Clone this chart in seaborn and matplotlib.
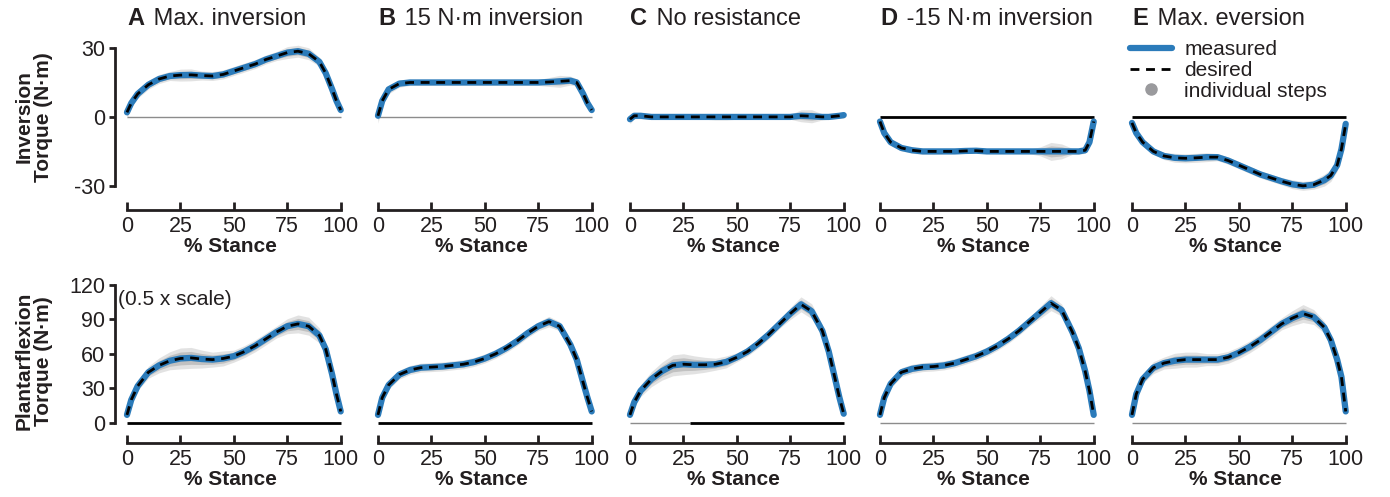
import numpy as np
import pandas as pd
import seaborn as sns
import matplotlib.pyplot as plt
import matplotlib.transforms as mtransforms
from matplotlib.lines import Line2D

sns.set_style('ticks')
plt.rcParams['font.family'] = ['Liberation Sans', 'DejaVu Sans']
plt.rcParams['axes.unicode_minus'] = False

# ----------------- data -----------------
stance = [0, 2, 5, 10, 15, 20, 25, 30, 35, 40, 45, 50, 55, 60, 65, 70, 75, 80, 85, 90, 93, 96, 98, 100]

# inversion torque (N·m), top row
inv_A = [2, 6, 10, 14, 16.5, 17.8, 18.2, 18.3, 18, 17.8, 18.5, 20, 21.5, 23, 25, 26.5, 28, 28.6, 27.5, 24, 19, 12, 7, 3]
inv_B = [0.5, 7, 12, 14.5, 15, 15, 15, 15, 15, 15, 15, 15, 15, 15, 15, 15, 15, 15.2, 15.5, 15.8, 15, 10, 6, 3]
inv_C = [-1, 0.5, 0.5, 0, 0, 0, 0, 0, 0, 0, 0, 0, 0, 0, 0, 0, 0, 0.5, 0.3, 0, 0, 0.3, 0.5, 0.8]
inv_D = [-2, -7, -11, -13.5, -14.5, -15, -15, -15, -15, -14.8, -14.7, -15, -15, -15, -15, -15, -15, -15, -15, -15, -15, -14.5, -11, -2]
inv_E = [-2.6, -7, -11, -15, -17, -17.8, -18, -17.8, -17.5, -17.5, -19, -21, -23, -25, -26.5, -28, -29.3, -30, -29.5, -27.5, -25.5, -21, -14, -3]

# spread of individual steps (half width)
inv_A_sd = [2, 1.5, 1.5, 1.5, 1.5, 1.5, 2, 2, 1.5, 1.5, 1.5, 1.5, 1.5, 1.5, 1.5, 1.5, 2, 2, 2, 1.5, 1.5, 1.5, 1.5, 1.5]
inv_B_sd = [2.5, 1.5, 1.5, 1.2, 1, 1, 1, 1, 1, 1, 1, 1, 1, 1, 1, 1, 1, 1.5, 2, 1.5, 1.2, 1.2, 1.2, 1.2]
inv_C_sd = [1.5, 1, 1, 0.8, 0.8, 0.8, 0.8, 0.8, 0.8, 1, 1, 0.8, 0.8, 0.8, 0.8, 0.8, 0.8, 2, 2.2, 1, 0.8, 0.8, 0.8, 0.8]
inv_D_sd = [1, 1, 1, 1, 1, 1, 1, 0.8, 0.8, 0.8, 0.8, 0.8, 0.8, 0.8, 0.8, 0.8, 1.5, 3, 2.5, 1, 1, 1, 1, 1]
inv_E_sd = [1, 1, 1, 1, 1.2, 1.5, 1.5, 1.5, 1.5, 1.2, 1.2, 1.2, 1.2, 1.2, 1.2, 1.2, 1.5, 1.5, 1.5, 2, 2, 2, 1.5, 1.5]

# plantarflexion torque (N·m), bottom row
pf_A = [7, 20, 32, 44, 50, 54, 56, 56.5, 55.5, 55, 56, 58, 62, 67, 73, 79, 84, 86, 84, 76, 64, 42, 25, 10]
pf_B = [7, 22, 33, 42, 46, 48, 48.5, 49, 50, 51, 53, 56, 60, 65, 71, 78, 84, 88, 84, 68, 55, 35, 22, 10]
pf_C = [7, 18, 28, 38, 45, 50, 51, 50.5, 50.5, 51, 53, 57, 62, 69, 77, 86, 95, 103, 97, 80, 62, 38, 22, 8]
pf_D = [7, 22, 34, 44, 47, 48.5, 49, 50, 52, 55, 58, 62, 67, 73, 80, 88, 96, 104, 98, 79, 65, 45, 28, 7]
pf_E = [7, 25, 38, 48, 52, 54, 55, 55, 55, 55, 57, 61, 66, 72, 79, 86, 91, 95, 92, 83, 72, 55, 40, 10]

pf_A_sd = [2, 3, 3, 4, 5, 6, 7, 7, 6, 5, 5, 4, 4, 4, 4, 4, 5, 6, 6, 5, 4, 3, 3, 2]
pf_B_sd = [2, 3, 3, 3, 3, 3, 3, 3, 3, 3, 3, 3, 3, 3, 3, 3, 3, 3.5, 3, 3, 3, 2, 2, 2]
pf_C_sd = [2, 3, 4, 5, 6, 7, 7, 6, 5, 4, 4, 3, 3, 3, 3, 3, 4, 5, 5, 4, 3, 3, 2, 2]
pf_D_sd = [2, 3, 3, 3, 3, 3, 3, 3, 3, 3, 3, 3, 3, 3, 3, 3, 4, 5, 4, 3, 3, 2, 2, 2]
pf_E_sd = [2, 3, 3, 4, 4, 5, 5, 5, 4, 4, 4, 4, 4, 4, 4, 4, 5, 6, 5, 4, 3, 3, 2, 2]

letters = ['A', 'B', 'C', 'D', 'E']
titles = ['Max. inversion', '15 N\u00b7m inversion', 'No resistance', '-15 N\u00b7m inversion', 'Max. eversion']

top_series = [inv_A, inv_B, inv_C, inv_D, inv_E]
top_spread = [inv_A_sd, inv_B_sd, inv_C_sd, inv_D_sd, inv_E_sd]
bot_series = [pf_A, pf_B, pf_C, pf_D, pf_E]
bot_spread = [pf_A_sd, pf_B_sd, pf_C_sd, pf_D_sd, pf_E_sd]

# ----------------- style -----------------
blue = '#2b7bba'
dark = '#231f20'
gray_band = '#9a9a9a'
thin = dict(color='#8c8c8c', lw=1.0)
thick = dict(color='black', lw=2.0)

# zero line appearance per panel: list of (x0, x1, style)
top_zero = [[(0, 100, thin)], [(0, 100, thin)], [(0, 100, thin)],
            [(0, 100, thick)], [(0, 100, thick)]]
bot_zero = [[(0, 100, thick)], [(0, 100, thick)], [(0, 28, thin), (28, 100, thick)],
            [(0, 100, thin)], [(0, 100, thin)]]

W, H = 1390, 497
fig = plt.figure(figsize=(W / 100, H / 100), dpi=100)

col_x0 = [127, 378, 630, 880, 1132]
ax_w = 230
rows = [dict(bottom=1 - 210 / H, height=(210 - 36.5) / H, ylim=(-40.5, 35), bounds=(-30, 30),
             yticks=[-30, 0, 30], series=top_series, spread=top_spread, zero=top_zero,
             ylabel='Inversion\nTorque (N\u00b7m)', ylab_y=(210 - 117) / (210 - 36.5)),
        dict(bottom=1 - 443 / H, height=(443 - 279) / H, ylim=(-17.4, 125), bounds=(0, 120),
             yticks=[0, 30, 60, 90, 120], series=bot_series, spread=bot_spread, zero=bot_zero,
             ylabel='Plantarflexion\nTorque (N\u00b7m)', ylab_y=0.5)]

title_texts = []
for r, row in enumerate(rows):
    for c in range(5):
        ax = fig.add_axes([(col_x0[c] - 12) / W, row['bottom'], ax_w / W, row['height']])
        y = np.array(row['series'][c])
        sd = np.array(row['spread'][c])

        for x0, x1, st in row['zero'][c]:
            ax.plot([x0, x1], [0, 0], zorder=1, solid_capstyle='butt', **st)

        # individual steps as a soft gray band
        ax.fill_between(stance, y - sd * 1.3, y + sd * 1.3, color=gray_band, alpha=0.28, lw=0, zorder=2)
        ax.fill_between(stance, y - sd * 0.8, y + sd * 0.8, color=gray_band, alpha=0.45, lw=0, zorder=2)

        sns.lineplot(x=stance, y=y, color=blue, lw=4.5, ax=ax, zorder=3,
                     solid_capstyle='round')
        sns.lineplot(x=stance, y=y, color='black', lw=2, ax=ax, zorder=4,
                     linestyle=(0, (3.2, 2.4)))

        ax.set_xlim(-5.6, 102)
        ax.set_ylim(*row['ylim'])
        ax.set_xticks([0, 25, 50, 75, 100])
        ax.spines['top'].set_visible(False)
        ax.spines['right'].set_visible(False)
        ax.spines['bottom'].set_bounds(0, 100)
        ax.spines['bottom'].set_linewidth(2)
        ax.spines['bottom'].set_color(dark)
        ax.tick_params(axis='x', direction='in', length=6, width=2, labelsize=15.5,
                       pad=4, color=dark, labelcolor=dark)
        ax.set_xlabel('% Stance', fontsize=15, fontweight='bold', color=dark, labelpad=0)

        if c == 0:
            ax.spines['left'].set_bounds(*row['bounds'])
            ax.spines['left'].set_linewidth(2)
            ax.spines['left'].set_color(dark)
            ax.set_yticks(row['yticks'])
            ax.tick_params(axis='y', direction='out', length=4, width=2, labelsize=15.5,
                           pad=3, color=dark, labelcolor=dark)
            ax.set_ylabel(row['ylabel'], fontsize=15, fontweight='bold', color=dark,
                          linespacing=1.0)
            ax.yaxis.set_label_coords(-0.27, row['ylab_y'])
        else:
            ax.spines['left'].set_visible(False)
            ax.set_yticks([])

        if r == 0:
            trans = mtransforms.blended_transform_factory(ax.transData, ax.transAxes)
            t = ax.text(0, 1.066, letters[c], transform=trans, fontsize=17,
                        fontweight='bold', color=dark, va='baseline', ha='left')
            title_texts.append((ax, t, titles[c]))
        if r == 1 and c == 0:
            ax.text(-4.2, 107, '(0.5 x scale)', fontsize=15, color=dark, ha='left', va='center')

# place the non-bold part of each title right after the bold letter
fig.canvas.draw()
renderer = fig.canvas.get_renderer()
for ax, t, rest in title_texts:
    bb = t.get_window_extent(renderer)
    fig.text((bb.x1 + 3) / W, bb.y0 / H, ' ' + rest, fontsize=17, color=dark,
             va='bottom', ha='left')

handles = [Line2D([], [], color=blue, lw=4.5, solid_capstyle='round'),
           Line2D([], [], color='black', lw=2, linestyle=(0, (3.2, 2.4))),
           Line2D([], [], color='#9a9a9d', lw=0, marker='o', markersize=8)]
fig.legend(handles, ['measured', 'desired', 'individual steps'], loc='upper left',
           bbox_to_anchor=(1122 / W, 1 - 32 / H), frameon=False, fontsize=15,
           handlelength=2.0, labelspacing=0.08, handletextpad=0.6, borderaxespad=0,
           labelcolor=dark)

fig.savefig('out.png', dpi=100)
